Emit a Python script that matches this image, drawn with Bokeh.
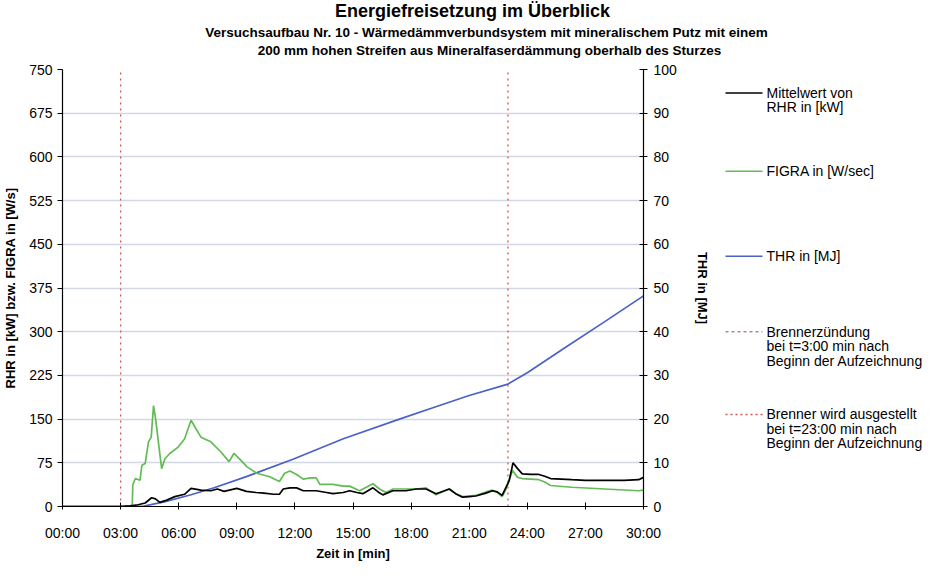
from bokeh.plotting import figure
from bokeh.models import Range1d, LinearAxis, FixedTicker
from bokeh.layouts import column, row
from bokeh.core.properties import value
from bokeh.embed import file_html
from bokeh.resources import INLINE

# ---------------- data ----------------
x_ticks = [0, 3, 6, 9, 12, 15, 18, 21, 24, 27, 30]
x_tick_labels = ["00:00", "03:00", "06:00", "09:00", "12:00", "15:00",
                 "18:00", "21:00", "24:00", "27:00", "30:00"]
y_ticks = [0, 75, 150, 225, 300, 375, 450, 525, 600, 675, 750]
thr_ticks = [0, 10, 20, 30, 40, 50, 60, 70, 80, 90, 100]

# Mittelwert von RHR in [kW]
rhr_t = [0, 3.0, 3.5, 3.9, 4.27, 4.6, 4.8, 5.03, 5.3, 5.8, 6.3, 6.64, 7.15, 7.66, 8.0,
         8.34, 9.0, 9.5, 10.0, 10.4, 10.9, 11.2, 11.4, 11.74, 12.09, 12.43, 13.1, 13.63,
         13.97, 14.49, 14.83, 15.2, 15.51, 16.03, 16.3, 16.54, 17.06, 17.74, 18.26, 18.77,
         19.29, 19.97, 20.3, 20.66, 21.0, 21.34, 21.86, 22.2, 22.45, 22.7, 22.9, 23.06,
         23.2, 23.26, 23.5, 23.74, 24.2, 24.6, 24.9, 25.2, 26.3, 27.0, 28.0, 29.0, 29.75, 30.0]
rhr_v = [0, 0, 1, 3, 6, 15, 13, 7, 10, 17, 21, 31, 28, 27, 30,
         26, 31, 26, 24, 23, 21, 21, 30, 32, 32, 27, 27, 24,
         22, 24, 27, 24, 22, 32, 25, 20, 27, 27, 30, 30,
         22, 30, 22, 16, 17, 18, 23, 27, 25, 19, 33, 44,
         65, 75, 65, 56, 55, 55, 52, 48, 46, 45, 45, 45, 46, 50]

# FIGRA in [W/sec]
figra_t = [0, 3.6, 3.63, 3.76, 4.0, 4.1, 4.27, 4.44, 4.58, 4.7, 4.81, 4.95, 5.12, 5.29,
           5.54, 5.97, 6.3, 6.64, 6.9, 7.15, 7.66, 8.17, 8.6, 8.85, 9.19, 9.53, 10.03,
           10.7, 11.2, 11.47, 11.74, 12.09, 12.43, 12.8, 13.1, 13.29, 13.97, 14.49, 14.83,
           15.34, 16.03, 16.37, 16.71, 17.06, 17.57, 18.26, 18.77, 19.29, 19.97, 20.3,
           20.66, 21.0, 21.34, 21.86, 22.2, 22.45, 22.7, 22.9, 23.14, 23.23, 23.5, 23.74,
           24.6, 24.9, 25.2, 26.3, 28.0, 29.75, 30.0]
figra_v = [0, 0, 37, 48, 45, 71, 74, 111, 119, 173, 150, 111, 65, 82,
           91, 102, 116, 148, 133, 119, 111, 94, 77, 91, 80, 68, 57,
           51, 43, 57, 61, 55, 47, 49, 49, 38, 38, 35, 35,
           27, 39, 30, 24, 30, 30, 30, 32, 20, 30, 22,
           17, 18, 19, 25, 28, 24, 17, 30, 52, 62, 50, 48,
           46, 42, 36, 33, 30, 27, 28]

# THR in [MJ]
thr_t = [0, 3.0, 4.2, 5.3, 6.64, 7.83, 9.53, 11.9, 14.5, 17.4, 19.2, 21.0, 23.0,
         24.0, 26.0, 28.0, 30.0]
thr_v = [0, 0.05, 0.1, 1.1, 2.7, 4.3, 6.9, 10.8, 15.5, 20.0, 22.7, 25.4, 28.0,
         30.6, 36.5, 42.3, 48.2]

ignition_time = 3      # Brennerzuendung
burner_off_time = 23   # Brenner wird ausgestellt
y_max = 750
thr_max = 100

title_lines = ["Energiefreisetzung im Überblick",
               "Versuchsaufbau Nr. 10 - Wärmedämmverbundsystem mit mineralischem Putz mit einem",
               "200 mm hohen Streifen aus Mineralfaserdämmung oberhalb des Sturzes"]
legend_labels = [["Mittelwert von", "RHR in [kW]"],
                 ["FIGRA in [W/sec]"],
                 ["THR in [MJ]"],
                 ["Brennerzündung", "bei t=3:00 min nach", "Beginn der Aufzeichnung"],
                 ["Brenner wird ausgestellt", "bei t=23:00 min nach", "Beginn der Aufzeichnung"]]

FONT = "Liberation Sans"
C_RHR, C_FIGRA, C_THR, C_BURN = "black", "#62bb55", "#4a62c8", "#d9534f"

# ---------------- title strip ----------------
tf = figure(width=925, height=60, x_range=Range1d(0, 925), y_range=Range1d(60, 0),
            x_axis_type=None, y_axis_type=None, output_backend="svg", toolbar_location=None,
            min_border=0, outline_line_color=None)
tf.grid.visible = False
tf.text(x=[472], y=[10], text=[title_lines[0]], text_font=value(FONT), text_font_size="18px",
        text_font_style="bold", text_align="center", text_baseline="middle", text_color="black")
tf.text(x=[486, 489], y=[32, 50], text=title_lines[1:], text_font=value(FONT), text_font_size="13.5px",
        text_font_style="bold", text_align="center", text_baseline="middle", text_color="black")

# ---------------- main chart ----------------
p = figure(width=717, height=503, x_range=Range1d(0, 30), y_range=Range1d(0, y_max),
           output_backend="svg", toolbar_location=None,
           min_border_left=60, min_border_right=74, min_border_top=9, min_border_bottom=52)
p.extra_y_ranges = {"thr": Range1d(0, thr_max)}
p.outline_line_color = None

p.xgrid.visible = False
p.ygrid.grid_line_color = "#d3d7e6"
p.ygrid.grid_line_width = 1.6
p.ygrid.ticker = FixedTicker(ticks=y_ticks)

xa = p.xaxis[0]
xa.ticker = FixedTicker(ticks=x_ticks)
xa.major_label_overrides = {t: l for t, l in zip(x_ticks, x_tick_labels)}
xa.axis_label = "Zeit in [min]"

ya = p.yaxis[0]
ya.ticker = FixedTicker(ticks=y_ticks)
ya.axis_label = "RHR in [kW] bzw. FIGRA in [W/s]"

ra = LinearAxis(y_range_name="thr", ticker=FixedTicker(ticks=thr_ticks), axis_label="THR in [MJ]")
p.add_layout(ra, "right")

for ax in (xa, ya, ra):
    ax.axis_line_color = "black"
    ax.axis_line_width = 1.2
    ax.major_tick_line_color = "black"
    ax.minor_tick_line_color = None
    ax.major_label_text_font = FONT
    ax.major_label_text_font_size = "14px"
    ax.major_label_text_color = "black"
    ax.axis_label_text_font = FONT
    ax.axis_label_text_font_size = "13px"
    ax.axis_label_text_font_style = "bold"
    ax.axis_label_text_color = "black"

xa.major_tick_in = 4
xa.major_tick_out = 3
xa.major_label_standoff = 15
xa.axis_label_standoff = 2
ya.major_tick_in = 0
ya.major_tick_out = 5
ya.major_label_standoff = 5
ya.axis_label_standoff = 8
ra.major_tick_in = 4
ra.major_tick_out = 4
ra.major_label_standoff = 6
ra.axis_label_standoff = 15

# vertical burner lines
p.line([ignition_time, ignition_time], [0, y_max], line_color=C_BURN, line_width=1.3, line_dash="2 4")
p.line([burner_off_time, burner_off_time], [0, y_max], line_color=C_BURN, line_width=1.3, line_dash="2 4")

p.line(thr_t, thr_v, y_range_name="thr", line_color=C_THR, line_width=1.7)
p.line(figra_t, figra_v, line_color=C_FIGRA, line_width=1.7)
p.line(rhr_t, rhr_v, line_color=C_RHR, line_width=1.7)

# ---------------- legend panel (page-like pixel coordinates) ----------------
lf = figure(width=208, height=503, x_range=Range1d(725, 933), y_range=Range1d(571, 68),
            x_axis_type=None, y_axis_type=None, output_backend="svg", toolbar_location=None,
            min_border=0, outline_line_color=None)
lf.grid.visible = False

leg_colors = [C_RHR, C_FIGRA, C_THR, "#b08a92", C_BURN]
leg_dash = ["solid", "solid", "solid", "3 3", "2 3"]
leg_y = [95, 185, 283, 370, 465]
LINE_H = 16.5
for col, dash, y0, lines in zip(leg_colors, leg_dash, leg_y, legend_labels):
    lf.line([733, 770], [y0, y0], line_color=col, line_width=1.5, line_dash=dash)
    lf.text(x=[774] * len(lines), y=[y0 + i * LINE_H for i in range(len(lines))], text=lines,
            text_font=value(FONT), text_font_size="14px", text_align="left",
            text_baseline="middle", text_color="black")

layout = column(tf, row(p, lf))
open("out.html", "w").write(file_html(layout, INLINE))
